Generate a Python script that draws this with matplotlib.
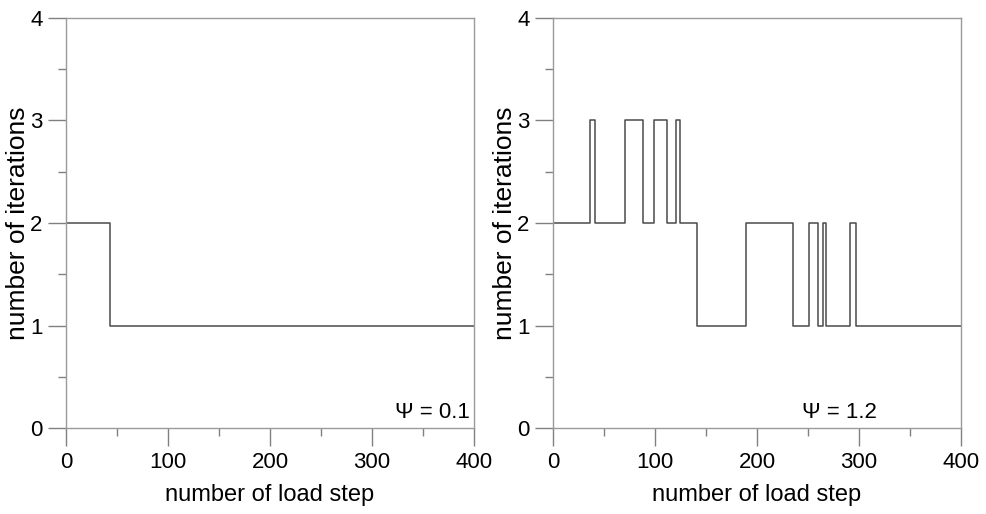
import matplotlib.pyplot as plt
from matplotlib.ticker import MultipleLocator

plt.rcParams["font.family"] = ["Liberation Sans", "DejaVu Sans"]

# load step where the iteration count changes, and the count from there on
steps_a = [0, 0, 43, 400]
iters_a = [0, 2, 1, 1]
label_a = "\u03A8 = 0.1"

steps_b = [0, 0, 36, 41, 70.5, 88, 99, 111.5, 120.5, 124.5, 141,
           189, 235, 251, 259.5, 265, 268, 291, 297.5, 400]
iters_b = [0, 2, 3, 2, 3, 2, 3, 2, 3, 2, 1,
           2, 1, 2, 1, 2, 1, 2, 1, 1]
label_b = "\u03A8 = 1.2"

fig = plt.figure(figsize=(9.87, 5.14), dpi=100)
ax1 = fig.add_axes([0.0669, 0.1673, 0.4134, 0.7977])
ax2 = fig.add_axes([0.5603, 0.1673, 0.4134, 0.7977])

panels = [
    (ax1, steps_a, iters_a, label_a, 396, "right"),
    (ax2, steps_b, iters_b, label_b, 281, "center"),
]

for ax, xs, ys, lab, tx, ha in panels:
    ax.plot(xs, ys, drawstyle="steps-post", color="#4a4a4a", lw=1.1)
    ax.set_xlim(0, 400)
    ax.set_ylim(0, 4)
    ax.xaxis.set_major_locator(MultipleLocator(100))
    ax.xaxis.set_minor_locator(MultipleLocator(50))
    ax.yaxis.set_major_locator(MultipleLocator(1))
    ax.yaxis.set_minor_locator(MultipleLocator(0.5))
    ax.tick_params(which="major", direction="out", length=13, width=1,
                   color="#808080", labelsize=16, pad=4)
    ax.tick_params(which="minor", direction="out", length=6, width=1,
                   color="#808080")
    for s in ax.spines.values():
        s.set_color("#9a9a9a")
        s.set_linewidth(1)
    ax.set_xlabel("number of load step", fontsize=17, labelpad=8)
    ax.set_ylabel("number of iterations", fontsize=19, labelpad=0)
    ax.text(tx, 0.1, lab, fontsize=16, ha=ha, va="baseline")

fig.savefig("out.png", dpi=100)
